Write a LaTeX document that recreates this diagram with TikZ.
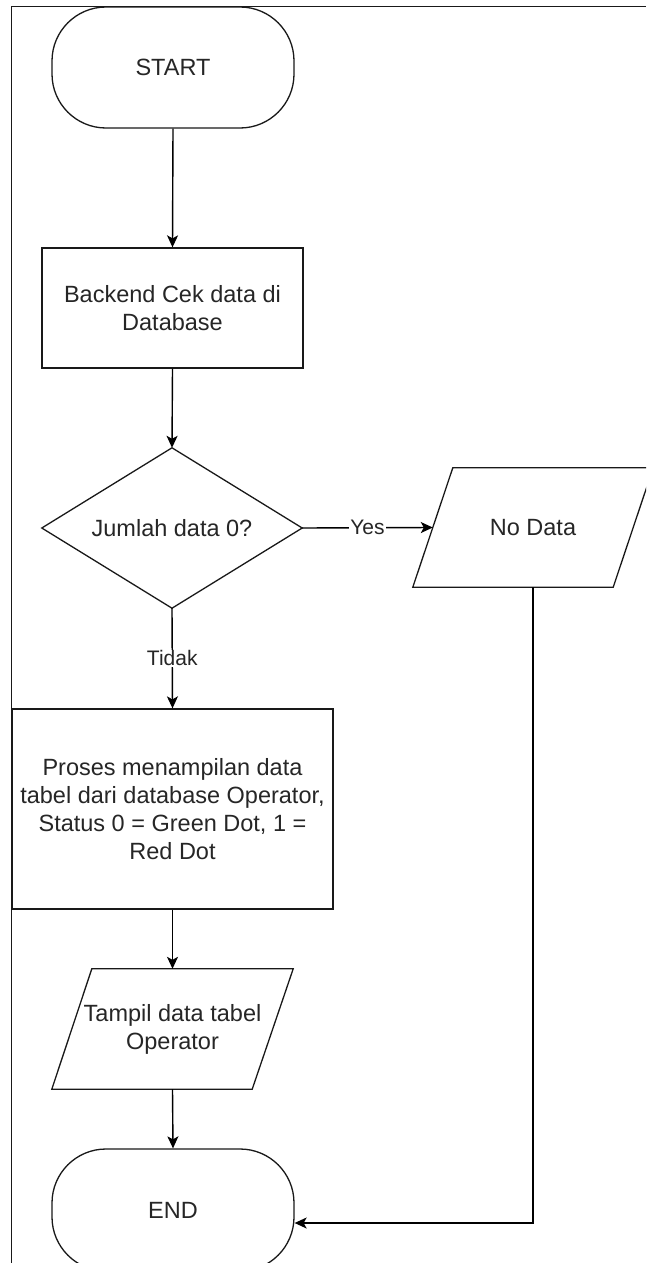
\documentclass[tikz,border=0pt]{standalone}
\usepackage{fontspec}
\setmainfont{Liberation Sans}
\usetikzlibrary{arrows.meta}
\begin{document}
\begin{tikzpicture}[x=1pt,y=-1pt,
  every node/.style={font=\fontsize{23.5}{28}\selectfont, text=black!85},
  box/.style={draw=black!90, line width=1.3pt, inner sep=0pt, align=center},
  ghost/.style={inner sep=0pt, align=center},
  shapeline/.style={draw=black!90, line width=1.3pt, line join=miter},
  arr/.style={draw=black, line width=1.4pt, -{Stealth[length=12pt,width=11pt,inset=3pt]}},
  lbl/.style={fill=white, inner sep=1pt, font=\fontsize{21}{24}\selectfont}]
\useasboundingbox (0,0) rectangle (646,1263);
\clip (0,0) rectangle (646,1263);
% frame
\draw[line width=0.9pt, black!90] (11,1263) -- (11,6) -- (646,6);
% nodes
\node[box, rounded corners=54pt, minimum width=242pt, minimum height=121pt] (start) at (173,67.5) {START};
\node[box, minimum width=261pt, minimum height=120pt] (backend) at (172.5,308) {Backend Cek data di\\Database};
\node[ghost, minimum width=260pt, minimum height=160pt] (dec) at (172,528) {Jumlah data 0?};
\draw[shapeline] (dec.north) -- (dec.east) -- (dec.south) -- (dec.west) -- cycle;
\node[ghost, minimum width=240pt, minimum height=119pt] (nodata) at (533,527.5) {No Data};
\draw[shapeline] (nodata.south west) -- ([xshift=40pt]nodata.north west) -- (nodata.north east) -- ([xshift=-40pt]nodata.south east) -- cycle;
\node[box, minimum width=321pt, minimum height=200pt] (proc) at (172.5,809) {Proses menampilan data\\tabel dari database Operator,\\Status 0 = Green Dot, 1 =\\Red Dot};
\node[ghost, minimum width=241pt, minimum height=120pt] (tampil) at (172.5,1029) {Tampil data tabel\\Operator};
\draw[shapeline] (tampil.south west) -- ([xshift=40pt]tampil.north west) -- (tampil.north east) -- ([xshift=-41pt]tampil.south east) -- cycle;
\node[box, rounded corners=54pt, minimum width=242pt, minimum height=122pt] (stop) at (173,1210) {END};
% connectors
\draw[arr] (start.south) -- (backend.north);
\draw[arr] (backend.south) -- (dec.north);
\draw[arr] (dec.east) -- node[lbl]{Yes} ([xshift=20pt]nodata.west);
\draw[arr] (dec.south) -- node[lbl]{Tidak} (proc.north);
\draw[arr] (proc.south) -- (tampil.north);
\draw[arr] (tampil.south) -- (stop.north);
\draw[arr] (nodata.south) |- ([yshift=-13pt]stop.east);
\end{tikzpicture}
\end{document}
